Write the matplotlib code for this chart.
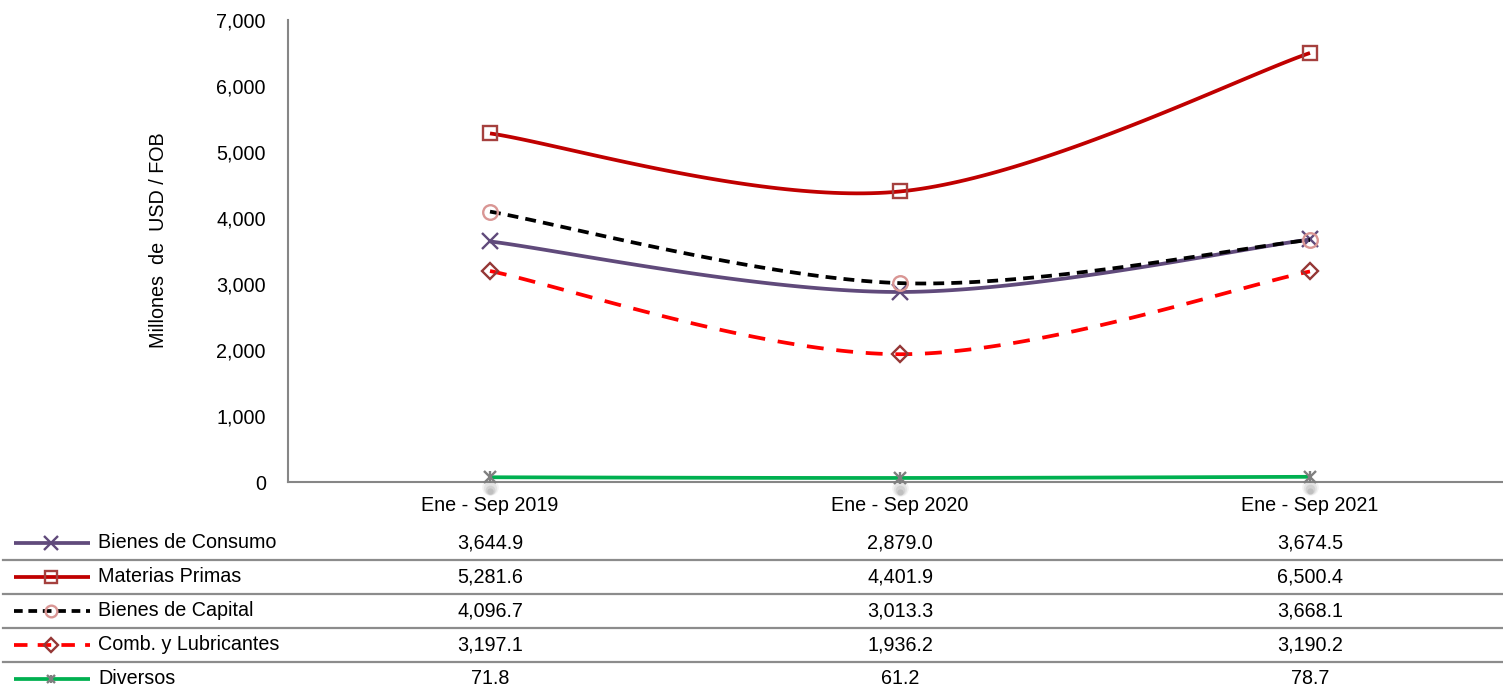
import numpy as np
import matplotlib
matplotlib.use("Agg")
import matplotlib.pyplot as plt
from matplotlib.lines import Line2D
from matplotlib.transforms import blended_transform_factory, ScaledTranslation

plt.rcParams['font.family'] = ['Liberation Sans', 'DejaVu Sans']

# ---- data ----
periods = ["Ene - Sep 2019", "Ene - Sep 2020", "Ene - Sep 2021"]
bienes_consumo = [3644.9, 2879.0, 3674.5]
materias_primas = [5281.6, 4401.9, 6500.4]
bienes_capital = [4096.7, 3013.3, 3668.1]
comb_lubricantes = [3197.1, 1936.2, 3190.2]
diversos = [71.8, 61.2, 78.7]
series_names = ["Bienes de Consumo", "Materias Primas", "Bienes de Capital",
                "Comb. y Lubricantes", "Diversos"]
y_ticks = [0, 1000, 2000, 3000, 4000, 5000, 6000, 7000]

W, H = 1503, 691
FS = 14.2
fig = plt.figure(figsize=(W / 100, H / 100), dpi=100)

def fx(px):
    return px / W

def fy(py):
    return 1 - py / H

ax_left, ax_right, ax_top, ax_bottom = 288, 1503, 20, 482
ax = fig.add_axes([fx(ax_left), fy(ax_bottom), fx(ax_right - ax_left),
                   (ax_bottom - ax_top) / H])

band = 410.0
x = np.arange(len(periods))
x0 = -202.0 / band
ax.set_xlim(x0, x0 + (ax_right - ax_left) / band)
ax.set_ylim(0, 7000)


def smooth(xs, ys, n=60):
    """Bezier smoothing through every point (Catmull-Rom style tangents)."""
    xs = np.asarray(xs, float)
    ys = np.asarray(ys, float)
    P = np.column_stack([xs, ys])
    Pe = np.vstack([P[0], P, P[-1]])
    out = []
    for i in range(len(P) - 1):
        p0, p1 = P[i], P[i + 1]
        c1 = p0 + (Pe[i + 2] - Pe[i]) / 6.0
        c2 = p1 - (Pe[i + 3] - Pe[i + 1]) / 6.0
        t = np.linspace(0, 1, n)[:, None]
        seg = ((1 - t) ** 3) * p0 + 3 * ((1 - t) ** 2) * t * c1 \
            + 3 * (1 - t) * t ** 2 * c2 + t ** 3 * p1
        out.append(seg if i == 0 else seg[1:])
    out = np.vstack(out)
    return out[:, 0], out[:, 1]


styles = [
    dict(values=bienes_consumo, color="#604A7B", ls="-", dashes=None,
         marker="x", mec="#604A7B", ms=12, mew=1.7),
    dict(values=materias_primas, color="#C00000", ls="-", dashes=None,
         marker="s", mec="#A5403E", ms=10.5, mew=1.7),
    dict(values=bienes_capital, color="#000000", ls="--", dashes=(2.9, 1.9),
         marker="o", mec="#D99694", ms=10.5, mew=1.7),
    dict(values=comb_lubricantes, color="#FF0000", ls="--", dashes=(4.5, 3.4),
         marker="D", mec="#953735", ms=8.5, mew=1.7),
    dict(values=diversos, color="#00B050", ls="-", dashes=None,
         marker="x", mec="#7F7F7F", ms=8, mew=1.7),
]
LW = 2.7

# soft shadow under the Diversos markers
for k, a in enumerate([0.07, 0.10, 0.13, 0.16]):
    off = ScaledTranslation(0, -(7 + k) / 72, fig.dpi_scale_trans)
    ax.plot(x, diversos, ls="none", marker="o", ms=12 - 2.5 * k,
            mfc="#606060", mec="none", alpha=a,
            transform=ax.transData + off, zorder=2, clip_on=False)

for z, st in zip([5, 4, 6, 3, 7], styles):
    sx, sy = smooth(x, st["values"])
    line, = ax.plot(sx, sy, color=st["color"], lw=LW, ls=st["ls"],
                    zorder=z, solid_capstyle="butt", dash_capstyle="butt",
                    clip_on=False)
    if st["dashes"]:
        line.set_dashes(st["dashes"])
    ax.plot(x, st["values"], ls="none", marker=st["marker"], ms=st["ms"],
            mfc="none", mec=st["mec"], mew=st["mew"], zorder=z + 0.5,
            clip_on=False)
ax.plot(x, diversos, ls="none", marker="|", ms=8, mec="#7F7F7F", mew=1.7,
        zorder=7.5, clip_on=False)

# axes styling
for side in ["top", "right"]:
    ax.spines[side].set_visible(False)
for side in ["left", "bottom"]:
    ax.spines[side].set_color("#868686")
    ax.spines[side].set_linewidth(1.5)
ax.set_yticks(y_ticks)
ax.set_yticklabels([f"{v:,.0f}" for v in y_ticks])
ax.set_xticks(x)
ax.set_xticklabels(periods)
ax.tick_params(axis="y", length=0, pad=16, labelsize=FS)
ax.tick_params(axis="x", length=0, pad=10, labelsize=FS)

fig.text(fx(158), fy(240), "Millones  de  USD / FOB", rotation=90,
         ha="center", va="center", fontsize=FS)

# ---- data table ----
row_y = [543, 577, 611, 645, 679]
sep_y = [560, 594, 628, 662]
bt = blended_transform_factory(ax.transData, fig.transFigure)

for py in sep_y:
    fig.add_artist(Line2D([fx(3), fx(1503)], [fy(py), fy(py)],
                          color="#8C8C8C", lw=1.6))

for name, st, py in zip(series_names, styles, row_y):
    key = Line2D([fx(14), fx(90)], [fy(py), fy(py)], color=st["color"],
                 lw=LW, ls=st["ls"], solid_capstyle="butt",
                 dash_capstyle="butt")
    if st["dashes"]:
        key.set_dashes((st["dashes"][0] * 0.8, st["dashes"][1] * 0.8))
    fig.add_artist(key)
    fig.add_artist(Line2D([fx(51)], [fy(py)], ls="none", marker=st["marker"],
                          ms=st["ms"] * 0.8, mfc="none", mec=st["mec"],
                          mew=st["mew"]))
    if name == "Diversos":
        fig.add_artist(Line2D([fx(51)], [fy(py)], ls="none", marker="|",
                              ms=st["ms"] * 0.8, mec=st["mec"], mew=st["mew"]))
    fig.text(fx(98), fy(py), name, ha="left", va="center", fontsize=FS)
    for xi, v in zip(x, st["values"]):
        ax.text(xi, fy(py), f"{v:,.1f}", transform=bt, ha="center",
                va="center", fontsize=FS)

fig.savefig("out.png", dpi=100)
